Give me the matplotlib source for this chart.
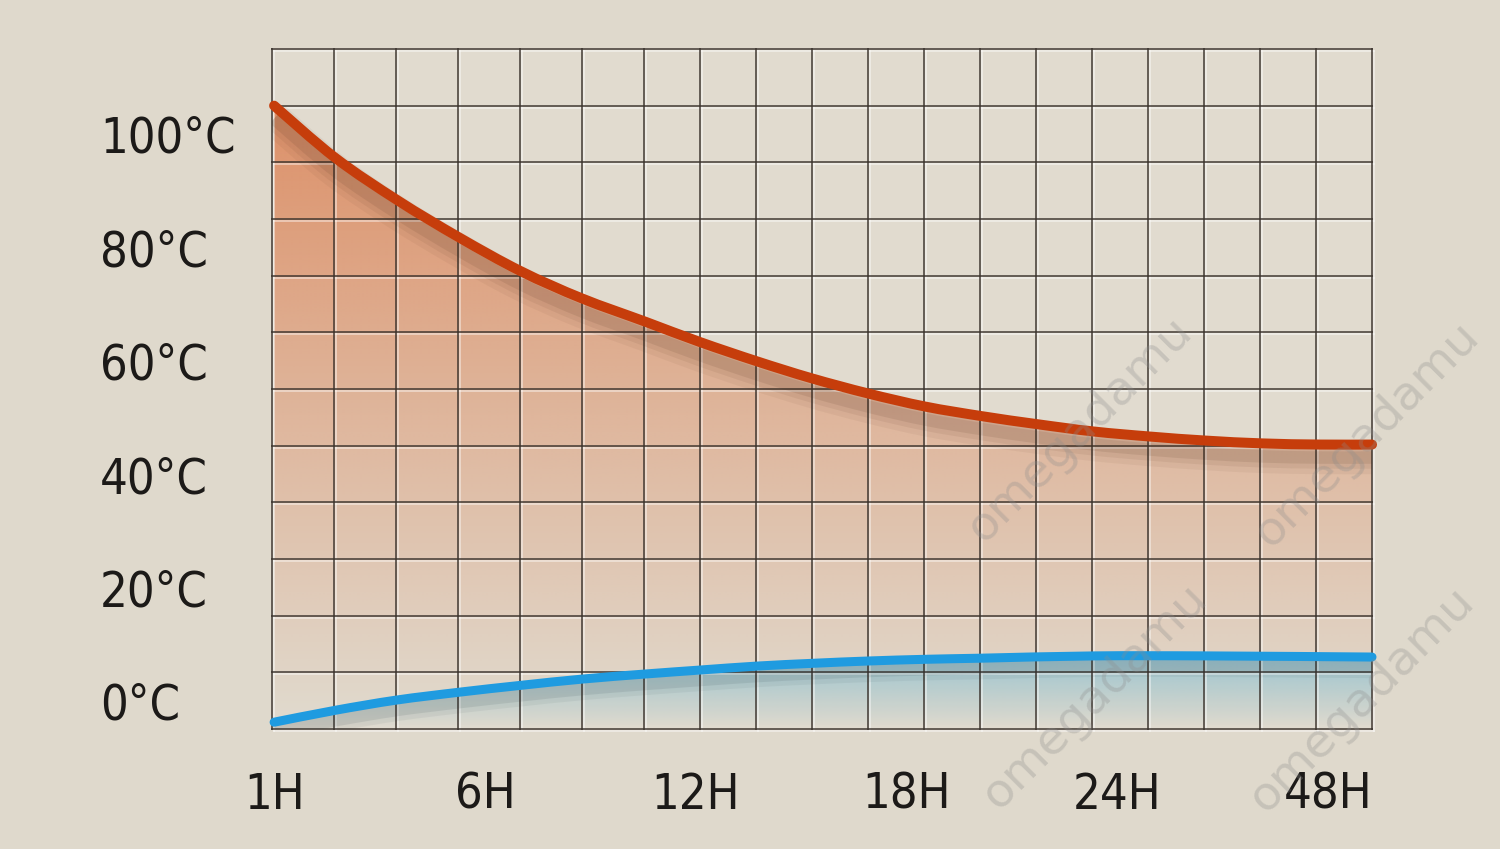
import numpy as np
import matplotlib
matplotlib.use("Agg")
import matplotlib.pyplot as plt
from matplotlib.colors import to_rgb
from matplotlib.patches import PathPatch
from matplotlib.path import Path
import matplotlib.transforms as mtransforms

# 時間刻度
time_labels = ["1H", "6H", "12H", "18H", "24H", "48H"]
time_pos = [0, 1, 2, 3, 4, 5]

# 溫度刻度
temp_ticks = [0, 20, 40, 60, 80, 100]
temp_labels = ["0°C", "20°C", "40°C", "60°C", "80°C", "100°C"]

# 熱水曲線 (x 為時間刻度位置)
hot_x = [0.0, 0.29, 0.59, 0.88, 1.17, 1.46, 1.76, 2.02, 2.29, 2.55,
         2.82, 3.09, 3.36, 3.62, 3.89, 4.16, 4.42, 4.69, 4.96, 5.21]
hot_y = [105.0, 95.8, 88.2, 81.7, 75.8, 71.0, 66.9, 63.3, 59.9, 56.9,
         54.2, 51.9, 50.2, 48.8, 47.5, 46.6, 45.9, 45.4, 45.2, 45.2]

# 冷水曲線
cold_x = [0.0, 0.29, 0.58, 0.88, 1.17, 1.46, 1.76, 2.02, 2.29, 2.56,
          2.82, 3.09, 3.36, 3.89, 4.43, 5.21]
cold_y = [-3.8, -1.7, 0.1, 1.5, 2.7, 3.8, 4.7, 5.4, 6.1, 6.6,
          7.0, 7.3, 7.5, 7.9, 7.9, 7.7]

bg = "#dfd9cc"
xmin, xmax = -0.01, 5.21
ymin, ymax = -5, 115

plt.rcParams["font.family"] = ["Liberation Sans Narrow", "DejaVu Sans"]
plt.rcParams["font.stretch"] = "condensed"

fig = plt.figure(figsize=(15, 8.49), dpi=100, facecolor=bg)
ax = fig.add_axes([272 / 1500, 120 / 849, 1100 / 1500, 680 / 849])
ax.set_facecolor("#e1dbcf")
ax.set_xlim(xmin, xmax)
ax.set_ylim(ymin, ymax)


def smooth_path(x, y, close_to=None):
    # 用貝茲曲線穿過各點 (Catmull-Rom)
    p = np.c_[x, y]
    n = len(p)
    verts = [p[0]]
    codes = [Path.MOVETO]
    for i in range(n - 1):
        p0 = p[i - 1] if i > 0 else p[i]
        p3 = p[i + 2] if i + 2 < n else p[i + 1]
        c1 = p[i] + (p[i + 1] - p0) / 6
        c2 = p[i + 1] - (p3 - p[i]) / 6
        verts += [c1, c2, p[i + 1]]
        codes += [Path.CURVE4] * 3
    if close_to is not None:
        verts += [[x[-1], close_to], [x[0], close_to], p[0]]
        codes += [Path.LINETO, Path.LINETO, Path.CLOSEPOLY]
    return Path(verts, codes)


def gradient_fill(x, y, color, a_top, a_bottom, top, zorder):
    # 漸層填色, 用曲線下方區域裁切
    rgb = to_rgb(color)
    n = 256
    img = np.zeros((n, 2, 4))
    img[:, :, :3] = rgb
    img[:, :, 3] = np.linspace(a_top, a_bottom, n)[:, None]
    im = ax.imshow(img, extent=[xmin, xmax, ymin, top], origin="upper",
                   aspect="auto", zorder=zorder, interpolation="bilinear")
    patch = PathPatch(smooth_path(x, y, ymin), facecolor="none",
                      edgecolor="none", transform=ax.transData)
    ax.add_patch(patch)
    im.set_clip_path(patch)


def curve(x, y, color, lw, zorder, alpha=1.0, transform=None, cap="round",
          clip=False):
    patch = PathPatch(smooth_path(x, y), facecolor="none", edgecolor=color,
                      lw=lw, alpha=alpha, zorder=zorder, capstyle=cap,
                      joinstyle="round",
                      transform=transform if transform else ax.transData)
    patch.set_clip_on(clip)
    ax.add_patch(patch)


gradient_fill(hot_x, hot_y, "#dd9068", 1.0, 0.0, 106, 1)
gradient_fill(cold_x, cold_y, "#8cc4d6", 0.9, 0.0, 9, 2)

# 網格 (兩段不同間距)
xb = xmin + 372 / 211
vx = np.r_[np.linspace(xmin, xb, 7), np.linspace(xb, xmax, 14)[1:]]
hy = np.arange(ymin, ymax + 1, 10)
hl = mtransforms.offset_copy(ax.transData, fig=fig, x=2, y=-2, units="dots")
for v in vx:
    ax.plot([v, v], [ymin, ymax], color="white", lw=1.2, alpha=0.5,
            transform=hl, zorder=3, clip_on=False)
    ax.plot([v, v], [ymin, ymax], color="#3a322c", lw=1.4, alpha=0.75,
            zorder=4, clip_on=False)
for h in hy:
    ax.plot([xmin, xmax], [h, h], color="white", lw=1.2, alpha=0.5,
            transform=hl, zorder=3, clip_on=False)
    ax.plot([xmin, xmax], [h, h], color="#3a322c", lw=1.4, alpha=0.75,
            zorder=4, clip_on=False)

# 陰影
sh = mtransforms.offset_copy(ax.transData, fig=fig, x=0, y=-13, units="dots")
for lw, a in [(24, 0.05), (16, 0.07), (9, 0.1)]:
    curve(hot_x, hot_y, "#4a2a18", lw, 5, alpha=a, transform=sh, cap="butt",
          clip=True)
sh2 = mtransforms.offset_copy(ax.transData, fig=fig, x=0, y=-10, units="dots")
for lw, a in [(16, 0.06), (9, 0.1)]:
    curve(cold_x, cold_y, "#2a3a40", lw, 5, alpha=a, transform=sh2, cap="butt",
          clip=True)

# 曲線
curve(hot_x, hot_y, "#c63d0b", 7.2, 6)
curve(cold_x, cold_y, "#1f9be0", 6.5, 6)

# 刻度
ax.set_xticks(time_pos)
ax.set_xticklabels(time_labels)
ax.set_yticks(temp_ticks)
ax.set_yticklabels(temp_labels, ha="left")
ax.tick_params(axis="x", length=0, pad=30, labelsize=35, labelcolor="#1c1a18")
ax.tick_params(axis="y", length=0, pad=124, labelsize=35, labelcolor="#1c1a18")
for s in ax.spines.values():
    s.set_visible(False)

# 浮水印
for (px, py) in [(1080, 430), (1367, 435), (1095, 697), (1362, 700)]:
    fig.text(px / 1500, 1 - py / 849, "omegadamu", rotation=45,
             ha="center", va="center", fontsize=34, color="#8c8c8c",
             alpha=0.3, family="DejaVu Sans", stretch="normal", zorder=10)

fig.savefig("out.png", dpi=100, facecolor=bg)
